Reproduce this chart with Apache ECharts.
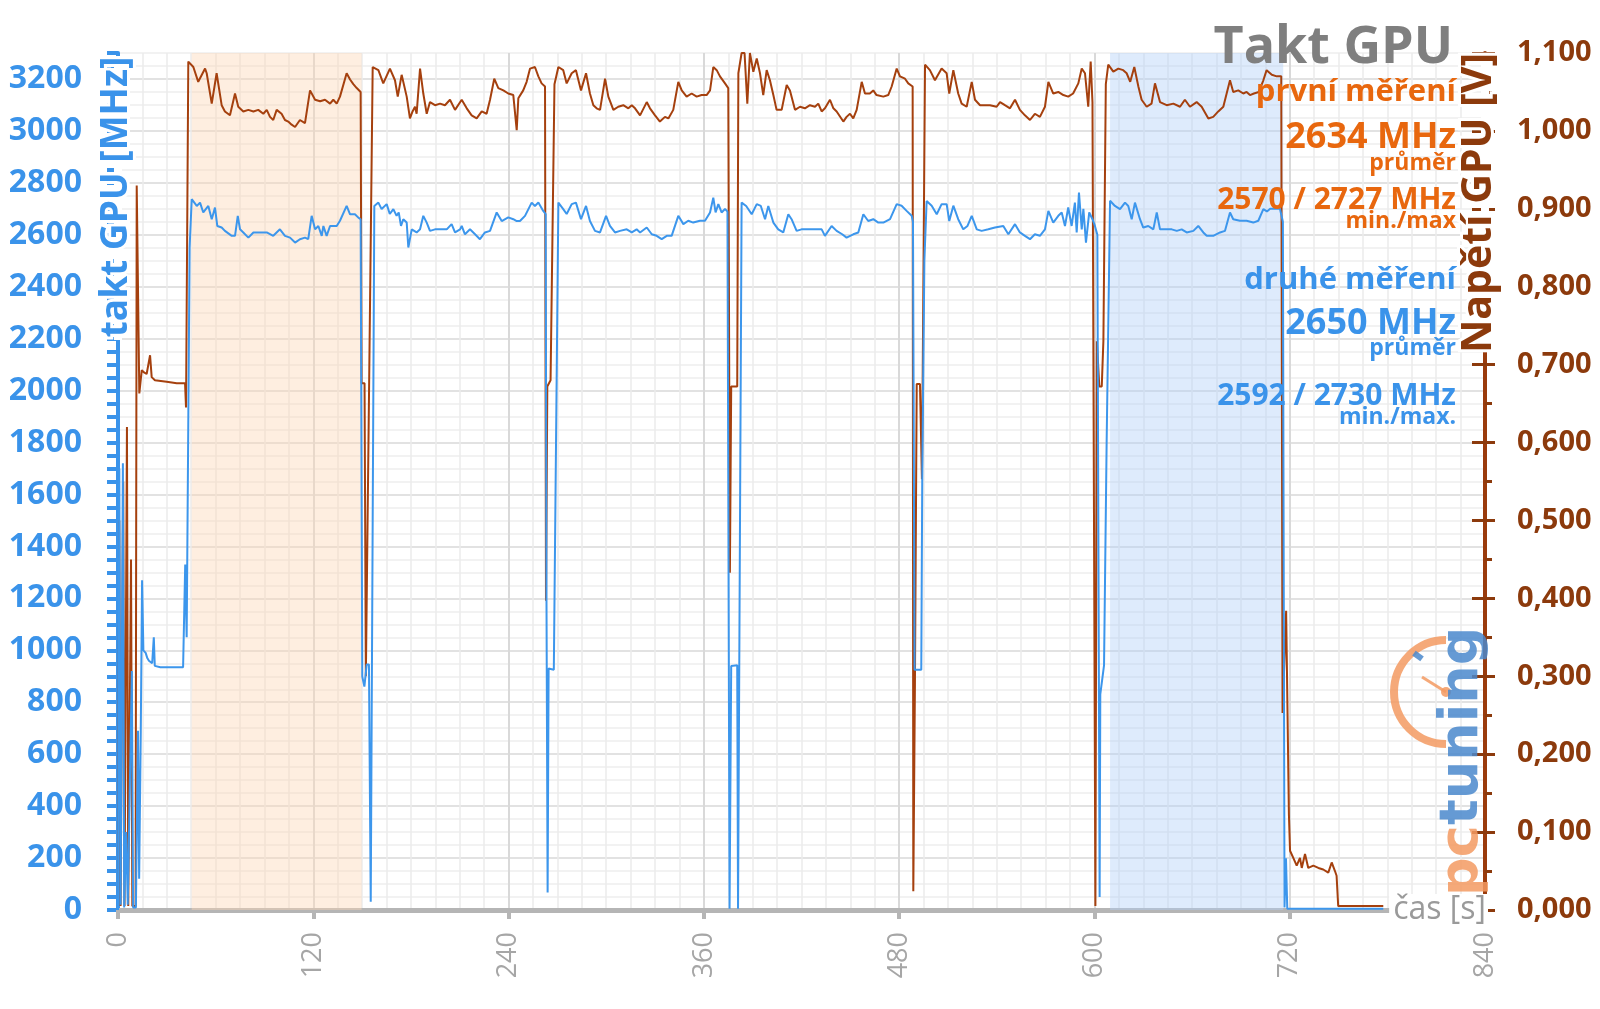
<!DOCTYPE html>
<html>
<head>
<meta charset="utf-8">
<script src="https://cdn.jsdelivr.net/npm/echarts@6/dist/echarts.min.js"></script>
<style>
html,body{margin:0;padding:0;background:#fff;}
#chart{width:1600px;height:1009px;}
</style>
</head>
<body>
<div id="chart"></div>
<script>
// ---- data: [time s, GPU clock MHz] ----
const clockSamples = [
[0,0],[0.8,1700],[1.6,20],[3,1720],[3.8,10],[5,300],[6,20],[8.5,920],[9.3,10],[11,10],[12.3,690],[13,120],[14,690],[14.8,1270],[15.6,1000],[17,990],[18,970],[19,960],[21,950],[22,1050],[22.6,940],[26,935],[33,935],[40,935],[41.3,1330],[42.2,1050],[44,2550],
[45.3,2737],[48.4,2711],[50.4,2724],[52.4,2686],[55.5,2711],[57.6,2660],[59.6,2705],[61.0,2634],[63.7,2628],[65.7,2615],[69.9,2596],[71.9,2596],[73.6,2673],[75.0,2621],[77.0,2609],[80.1,2589],[83.2,2609],[87.3,2609],[91.4,2609],[95.4,2596],[99.5,2621],[102.6,2596],[105.7,2589],[108.8,2570],[111.8,2583],[114.9,2589],[116.9,2583],[119.0,2673],[121.1,2621],[123.1,2634],[125.2,2596],[126.2,2634],[128.2,2596],[130.3,2634],[134.4,2634],[136.4,2654],[140.5,2711],[142.6,2679],[145.6,2679],[147.7,2666],[149.1,2660],
[150.1,899],[151.4,860],[152.8,945],[154.2,945],[155.3,32],[156.5,1500],
[157.5,2711],[160,2724],[162,2699],[165.1,2718],[167,2680],[169.2,2699],[171.2,2673],[172.5,2686],[173.9,2634],[175.3,2660],[177.4,2647],[178.4,2551],[180.5,2621],[183.5,2609],[185.6,2621],[187.6,2673],[189.7,2647],[191.7,2615],[194.8,2621],[198.9,2621],[202,2621],[205,2641],[207.1,2609],[210.2,2621],[211.2,2634],[213.2,2602],[216.3,2621],[219.4,2602],[222.4,2583],[225.5,2609],[228.6,2615],[232.7,2686],[235.8,2653],[239.8,2667],[242.9,2660],[245,2653],[247,2653],[250.1,2673],[254.2,2724],[256.2,2711],[258.3,2724],[261.3,2692],[262.8,2680],
[263.3,1190],[264,67],[264.6,930],[267.8,925],
[270.6,2724],[273.6,2699],[275.7,2680],[278.8,2718],[281.4,2724],[284.5,2660],[287.6,2711],[290,2653],[293.1,2615],[296.2,2609],[299.9,2673],[302.3,2634],[305.4,2609],[308.5,2615],[312.6,2621],[315.7,2609],[318.7,2621],[320.8,2609],[324.9,2628],[328,2602],[331,2596],[334.1,2583],[337.2,2596],[340.2,2596],[344.3,2673],[347.4,2641],[350.4,2654],[353.5,2647],[357.6,2654],[360.7,2654],[363.8,2686],[365.8,2743],[367.2,2686],[368.9,2718],[370.9,2686],[373,2699],[374.5,2690],
[375.8,5],[376.8,940],[380.5,942],[381,5],[381.8,5],
[383.2,2724],[386,2711],[389.4,2679],[392.5,2718],[395,2711],[397.6,2660],[399.6,2711],[402.7,2647],[405.7,2621],[408.8,2609],[411.9,2679],[413.9,2660],[417,2615],[420,2621],[424,2621],[428,2621],[432.4,2621],[434.4,2596],[438.5,2634],[441.6,2615],[445,2602],[447.7,2589],[451.8,2602],[454.9,2609],[458,2679],[461,2653],[464.1,2660],[467.2,2647],[470.3,2647],[474.4,2660],[478.5,2718],[481.5,2712],[484.6,2692],[487.7,2673],[488.5,2650],
[489.5,925],[493.6,925],[494.2,1662],[495.5,2500],
[496.9,2730],[500,2712],[503.1,2679],[506.1,2718],[509.2,2718],[510.8,2653],[513.3,2712],[516.3,2660],[519.4,2621],[522,2634],[524.6,2673],[527.7,2621],[530.7,2615],[534.8,2621],[538.9,2628],[544,2634],[547.1,2602],[548.1,2609],[551.2,2641],[554.2,2609],[557.3,2596],[560.4,2583],[563.4,2602],[566.5,2596],[569.6,2621],[571.7,2692],[574.7,2647],[577.8,2673],[579.9,2686],[581.9,2634],[583.9,2705],[586,2634],[588,2724],[589.1,2609],[590.5,2763],[592.2,2621],[593.2,2700],[594.8,2570],[596.8,2686],[598.8,2660],[600.3,2634],[601.8,2600],
[603.2,50],[603.6,830],[605.9,942],[607.5,1800],
[609.6,2731],[612.6,2711],[615.7,2699],[618.8,2724],[620.8,2711],[622.9,2660],[624.9,2724],[628,2660],[630,2628],[633.1,2634],[636.2,2621],[638.3,2686],[640.3,2621],[644.4,2621],[647.5,2621],[650.6,2615],[653.6,2621],[656.7,2609],[660.8,2615],[663.8,2634],[666.9,2609],[669,2596],[673,2596],[677.2,2609],[680.2,2615],[683.3,2686],[685.3,2660],[689.4,2654],[693.5,2654],[697.6,2647],[700.7,2654],[703.8,2699],[706,2690],[708,2700],[711,2700],[714,2700],[715.8,2650],
[716.8,10],[717.7,199],[718.5,5],[777.5,5]
];

// ---- data: [time s, GPU voltage V] ----
const voltageSamples = [
[0,0.005],[0.8,0.5],[1.6,0.005],[3.2,0.55],[4,0.005],[5.5,0.62],[6.3,0.005],[8,0.45],[8.8,0.005],[10.8,0.005],[11.5,0.93],[13.1,0.663],[14.6,0.693],[16,0.69],[17.6,0.688],[19.7,0.712],[20.7,0.684],[22.7,0.68],[29.9,0.678],[36.1,0.676],[41.2,0.676],[41.8,0.645],[43.2,1.089],
[46.3,1.082],[49.3,1.063],[53.5,1.080],[54.5,1.074],[57.6,1.035],[60.6,1.074],[63.7,1.033],[65.7,1.025],[68.8,1.020],[71.9,1.048],[73.9,1.031],[77,1.025],[80.1,1.027],[83.2,1.025],[86.2,1.027],[89.3,1.022],[91.4,1.027],[93.4,1.018],[95.4,1.014],[97.5,1.027],[100.5,1.022],[102.6,1.014],[104.6,1.012],[106.7,1.008],[108.8,1.005],[111.8,1.014],[114.9,1.010],[118,1.052],[121.1,1.040],[124.2,1.038],[127.2,1.040],[130.3,1.035],[132.3,1.040],[134.4,1.035],[136.4,1.044],[140.5,1.074],[142.6,1.066],[144.6,1.060],[146.7,1.055],[149.1,1.050],
[149.7,0.676],[151.5,0.676],[152.3,0.30],[156.5,1.082],
[160,1.078],[163,1.061],[167.1,1.080],[170.2,1.065],[171.9,1.044],[174.3,1.072],[177.4,1.044],[179.4,1.016],[181,1.025],[182.5,1.031],[183.5,1.022],[185.6,1.080],[187.6,1.048],[189.7,1.022],[191.7,1.037],[194.8,1.033],[197.9,1.035],[200.9,1.033],[204,1.040],[207.1,1.027],[211.2,1.040],[214.3,1.029],[217.3,1.020],[220.4,1.016],[223.5,1.025],[226.5,1.022],[228.6,1.040],[231.2,1.067],[233.7,1.055],[236.8,1.052],[239.8,1.048],[242.9,1.046],[245,1.001],[246,1.042],[249,1.052],[251.1,1.063],[253.2,1.080],[256.2,1.082],[258.3,1.070],[260.3,1.061],[262.4,1.057],
[263,0.397],[263.8,0.672],[265.8,0.68],[268.2,1.06],
[270.6,1.082],[273.6,1.078],[275.7,1.061],[278.8,1.074],[281.4,1.078],[284.5,1.052],[287.6,1.074],[290,1.048],[292.1,1.033],[294.1,1.029],[296.2,1.027],[299.3,1.067],[301.3,1.044],[304.4,1.027],[307.4,1.031],[310.5,1.033],[313.6,1.029],[315.7,1.033],[317.7,1.029],[320.8,1.020],[324.9,1.037],[326.9,1.029],[330,1.020],[333,1.012],[336.1,1.018],[338.2,1.016],[341.2,1.027],[344.3,1.063],[346.4,1.052],[349.4,1.044],[352.5,1.048],[355.6,1.044],[358.6,1.046],[361.7,1.046],[363.8,1.052],[365.8,1.082],[367.9,1.078],[369.9,1.070],[373,1.061],[375,1.055],
[376,0.433],[376.8,0.672],[380.5,0.672],[381.2,1.074],
[383.2,1.1],[385,1.1],[386.7,1.035],[388.3,1.1],[390.4,1.076],[392.5,1.093],[394.5,1.074],[396.5,1.046],[398.6,1.078],[400.6,1.065],[402.7,1.046],[404.7,1.027],[407.8,1.027],[410.9,1.059],[412.9,1.052],[416,1.027],[419.1,1.031],[422.1,1.029],[425.2,1.033],[428.3,1.031],[430.3,1.035],[432.4,1.025],[434.4,1.029],[437.5,1.040],[439.6,1.029],[441.6,1.025],[445.7,1.012],[447.7,1.018],[449.8,1.022],[451.8,1.016],[453.9,1.027],[457,1.063],[459,1.048],[462,1.048],[464.1,1.052],[466.1,1.046],[470.3,1.044],[473.3,1.046],[475.4,1.057],[478.5,1.080],[480.5,1.070],[483.6,1.067],[485.6,1.061],[488.3,1.057],
[488.7,0.024],[489.7,0.29],[490.8,0.675],[492.8,0.675],[494,0.553],[495.9,1.085],
[498.9,1.078],[502,1.065],[506.1,1.080],[509.2,1.074],[510.8,1.048],[513.3,1.078],[516.3,1.048],[518.4,1.035],[521.5,1.031],[524.6,1.063],[526.6,1.040],[529.7,1.033],[535.8,1.033],[539.9,1.031],[542,1.037],[545,1.033],[548.1,1.029],[551.2,1.040],[554.2,1.027],[557.3,1.020],[560.4,1.014],[563.4,1.022],[566.5,1.018],[569.6,1.031],[571.7,1.063],[574.7,1.048],[577.8,1.050],[580.9,1.046],[583.9,1.044],[586.9,1.048],[590.1,1.061],[592.2,1.080],[594.2,1.074],[596.2,1.031],[597.7,1.089],[598.8,1.037],[599.5,1.035],
[600.6,0.005],[601.5,0.73],[603,0.672],[604.5,0.672],[605.5,0.73],[607,1.06],
[608.5,1.085],[611.6,1.076],[614.7,1.080],[617.7,1.078],[619.8,1.074],[622,1.063],[624.5,1.082],[627,1.057],[629,1.040],[632.1,1.031],[635.1,1.035],[637.2,1.061],[640.3,1.037],[644.4,1.033],[648.5,1.035],[652.6,1.031],[655.6,1.040],[658.7,1.031],[662.8,1.037],[665.9,1.031],[670,1.016],[673,1.018],[676.1,1.025],[679.2,1.031],[683.3,1.065],[685.3,1.050],[688.4,1.052],[691.5,1.048],[693.5,1.050],[695.6,1.046],[698,1.048],[701,1.050],[703.8,1.065],[705.8,1.078],[709,1.072],[712,1.070],[714.8,1.070],
[715.6,0.253],[716.3,0.253],[717.8,0.384],[719.5,0.123],[720.2,0.076],[722.2,0.067],[724.3,0.057],[726.3,0.067],[727.4,0.054],[729.4,0.072],[731.4,0.054],[734.5,0.057],[737.6,0.054],[740.6,0.052],[743.7,0.048],[745.8,0.061],[747.8,0.050],[748.8,0.044],[749.8,0.005],[777.5,0.005]
];

// highlighted measurement windows (s)
const firstRunBand = [45.3, 149.7];
const secondRunBand = [609.6, 716];

// annotation texts
const titleText = 'Takt GPU';
const firstRunLines = ['první měření', '2634 MHz', 'průměr', '2570 / 2727 MHz', 'min./max'];
const secondRunLines = ['druhé měření', '2650 MHz', 'průměr', '2592 / 2730 MHz', 'min./max.'];
const leftAxisName = 'takt GPU [MHz]';
const rightAxisName = 'Napětí GPU [V]';
const xAxisName = 'čas [s]';

const BLUE = '#3a93ea';
const BLUE_LINE = '#3c96ec';
const BROWN = '#8c3a0c';
const BROWN_LINE = '#a5400e';
const ORANGE = '#e8670e';
const FONT = '"Open Sans", "Noto Sans", sans-serif';

function txt(text, x, y, size, color, weight) {
  return {
    type: 'text', x: x, y: y, z: 100,
    style: {
      legacy: false,
      text: text, fill: color,
      font: (weight || 'bold') + ' ' + size + 'px ' + FONT,
      align: 'right', verticalAlign: 'middle'
    }
  };
}

const RX = 1456;
const graphics = [
  txt(titleText, 1453, 48, 52, '#7f7f7f'),
  txt(firstRunLines[0], RX, 92, 31, ORANGE),
  txt(firstRunLines[1], RX, 138, 36, ORANGE),
  txt(firstRunLines[2], RX, 163, 23, ORANGE),
  txt(firstRunLines[3], RX, 200, 30, ORANGE),
  txt(firstRunLines[4], RX, 221, 23, ORANGE),
  txt(secondRunLines[0], RX, 280, 31, BLUE),
  txt(secondRunLines[1], RX, 324, 36, BLUE),
  txt(secondRunLines[2], RX, 348, 23, BLUE),
  txt(secondRunLines[3], RX, 396, 30, BLUE),
  txt(secondRunLines[4], RX, 417, 23, BLUE),
  // white strips hiding the axis lines behind the rotated axis names
  { type: 'rect', z: 95, shape: { x: 114, y: 56, width: 8, height: 284 }, style: { fill: '#ffffff' } },
  { type: 'rect', z: 95, shape: { x: 1481, y: 56, width: 8, height: 296 }, style: { fill: '#ffffff' } },
  {
    type: 'text', x: 116, y: 197, rotation: Math.PI / 2, z: 100,
    style: { legacy: false, text: leftAxisName, fill: BLUE, font: 'bold 37px ' + FONT,
      align: 'center', verticalAlign: 'middle',
      stroke: '#ffffff', lineWidth: 6 }
  },
  {
    type: 'text', x: 1479, y: 203, rotation: Math.PI / 2, z: 100,
    style: { legacy: false, text: rightAxisName, fill: BROWN, font: 'bold 41px ' + FONT,
      align: 'center', verticalAlign: 'middle',
      stroke: '#ffffff', lineWidth: 6 }
  },
  {
    type: 'text', x: 1488, y: 910, z: 100,
    style: { legacy: false, text: xAxisName, fill: '#9a9a9a', font: '32px ' + FONT,
      align: 'right', verticalAlign: 'middle',
      backgroundColor: '#fff', padding: [0, 2, 0, 4] }
  },
  // pctuning logo
  {
    type: 'arc', z: 90,
    shape: { cx: 1446, cy: 692, r: 52, startAngle: Math.PI / 2, endAngle: Math.PI * 1.5, clockwise: true },
    style: { stroke: '#f39a62', lineWidth: 8, fill: null, opacity: 0.85 }
  },
  {
    type: 'line', z: 90,
    shape: { x1: 1446, y1: 692, x2: 1422, y2: 677 },
    style: { stroke: '#f39a62', lineWidth: 3, opacity: 0.85 }
  },
  { type: 'circle', z: 90, shape: { cx: 1446, cy: 692, r: 5 }, style: { fill: '#f39a62', opacity: 0.85 } },
  {
    type: 'rect', z: 90, x: 1418, y: 656, rotation: -Math.PI / 5,
    shape: { x: -5, y: -3, width: 10, height: 6 }, style: { fill: '#4a88cc', opacity: 0.85 }
  },
  {
    type: 'text', x: 1463, y: 896, rotation: Math.PI / 2, z: 91,
    style: { legacy: false, text: 'pc', fill: '#f39a62', opacity: 0.85, font: 'bold 54px "DejaVu Sans", sans-serif',
      align: 'left', verticalAlign: 'middle' }
  },
  {
    type: 'text', x: 1463, y: 825, rotation: Math.PI / 2, z: 91,
    style: { legacy: false, text: 'tuning', fill: '#4a88cc', opacity: 0.85, font: 'bold 54px "DejaVu Sans", sans-serif',
      align: 'left', verticalAlign: 'middle' }
  }
];

const chart = echarts.init(document.getElementById('chart'), null, { renderer: 'canvas' });
const option = {
  animation: false,
  backgroundColor: '#ffffff',
  grid: { left: 118, right: 115, top: 53, bottom: 99, containLabel: false },
  xAxis: {
    type: 'value', min: 0, max: 840, interval: 120,
    axisLine: { show: true, lineStyle: { color: '#b5b5b5', width: 5 } },
    axisTick: { show: true, length: 9, lineStyle: { color: '#b5b5b5', width: 4 } },
    axisLabel: { rotate: 90, margin: 22, color: '#a6a6a6', fontSize: 27, fontFamily: FONT },
    splitLine: { show: true, lineStyle: { color: '#d9d9d9', width: 2 } },
    minorTick: { show: false, splitNumber: 8 },
    minorSplitLine: { show: true, lineStyle: { color: '#ececec', width: 1.5 } }
  },
  yAxis: [
    {
      type: 'value', min: 0, max: 3300, interval: 50, position: 'left',
      axisLine: { show: true, lineStyle: { color: BLUE, width: 4 } },
      axisTick: { show: true, length: 11, lineStyle: { color: BLUE, width: 4 } },
      axisLabel: {
        margin: 36, color: BLUE, fontSize: 32, fontWeight: 'bold', fontFamily: FONT,
        formatter: function (v) { return (v % 200 === 0 && v <= 3200) ? String(v) : ''; }
      },
      splitLine: { show: true, lineStyle: { color: ['#d9d9d9', '#eeeeee', '#eeeeee', '#eeeeee'], width: 1.5 } }
    },
    {
      type: 'value', min: 0, max: 1.1, interval: 0.1, position: 'right',
      axisLine: { show: true, lineStyle: { color: '#9a3b0c', width: 4 } },
      axisTick: { show: true, length: 10, lineStyle: { color: BROWN, width: 3 } },
      minorTick: { show: true, splitNumber: 2, length: 7, lineStyle: { color: BROWN, width: 3 } },
      axisLabel: {
        margin: 32, color: BROWN, fontSize: 29, fontWeight: 'bold', fontFamily: FONT,
        formatter: function (v) { return v.toFixed(3).replace('.', ','); }
      },
      splitLine: { show: false }
    },
    {
      type: 'value', min: 0, max: 1.1, interval: 0.1, position: 'right',
      axisLine: { show: false },
      axisTick: { show: true, inside: true, length: 13, lineStyle: { color: BROWN, width: 3 } },
      axisLabel: { show: false },
      splitLine: { show: false }
    }
  ],
  series: [
    {
      name: 'napětí', type: 'line', yAxisIndex: 1, data: voltageSamples,
      showSymbol: false, symbol: 'none', z: 3,
      lineStyle: { color: BROWN_LINE, width: 2 },
      markArea: {
        silent: true,
        data: [
          [{ xAxis: firstRunBand[0], itemStyle: { color: 'rgba(252,214,180,0.42)' } }, { xAxis: firstRunBand[1] }],
          [{ xAxis: secondRunBand[0], itemStyle: { color: 'rgba(176,208,248,0.42)' } }, { xAxis: secondRunBand[1] }]
        ]
      }
    },
    {
      name: 'takt', type: 'line', yAxisIndex: 0, data: clockSamples,
      showSymbol: false, symbol: 'none', z: 4,
      lineStyle: { color: BLUE_LINE, width: 2 }
    }
  ],
  graphic: graphics
};
chart.setOption(option);
</script>
</body>
</html>
